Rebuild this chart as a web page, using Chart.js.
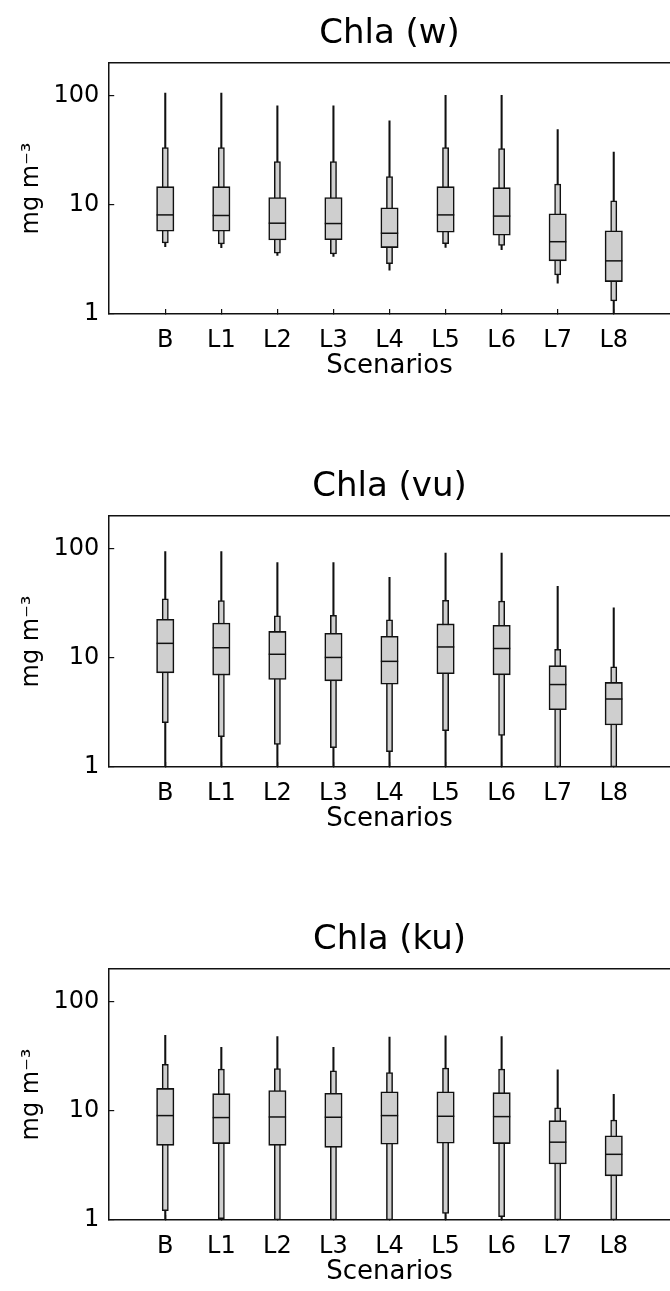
<!DOCTYPE html>
<html>
<head>
<meta charset="utf-8">
<script src="https://cdn.jsdelivr.net/npm/chart.js@4.4.0/dist/chart.umd.min.js"></script>
<style>
  html, body { margin: 0; padding: 0; background: #fff; overflow: hidden; }
  canvas { display: block; }
</style>
</head>
<body>
<canvas id="panelW" width="680" height="453"></canvas>
<canvas id="panelVu" width="680" height="453"></canvas>
<canvas id="panelKu" width="680" height="453"></canvas>
<script>
const scenarios = ['B', 'L1', 'L2', 'L3', 'L4', 'L5', 'L6', 'L7', 'L8'];
const yTicks = [1, 10, 100];

// Chla (w)
const wMax = [106, 106, 81, 81, 59, 101, 101, 49, 30.5];
const wHi  = [33.5, 33.5, 25, 25, 18.2, 33.5, 32.8, 15.5, 10.9];
const wQ3  = [14.7, 14.7, 11.7, 11.7, 9.4, 14.7, 14.4, 8.3, 5.8];
const wMed = [8.1, 8.0, 6.8, 6.75, 5.5, 8.1, 7.9, 4.6, 3.07];
const wQ1  = [5.74, 5.74, 4.77, 4.8, 4.06, 5.62, 5.27, 3.07, 1.98];
const wLo  = [4.48, 4.4, 3.61, 3.55, 2.9, 4.42, 4.26, 2.28, 1.32];
const wMin = [4.14, 4.05, 3.44, 3.37, 2.52, 4.08, 3.89, 1.92, 1];

// Chla (vu)
const vuMax = [94.4, 94.4, 74.7, 74.7, 54.7, 91.2, 91.2, 45.4, 28.8];
const vuHi  = [34.9, 33.5, 24.3, 24.6, 22.4, 33.7, 33.2, 12.0, 8.3];
const vuQ3  = [22.6, 20.9, 17.5, 16.8, 15.8, 20.5, 19.9, 8.49, 5.96];
const vuMed = [13.6, 12.4, 10.8, 10.1, 9.3, 12.6, 12.2, 5.7, 4.2];
const vuQ1  = [7.3, 6.96, 6.35, 6.16, 5.74, 7.16, 7.0, 3.35, 2.43];
const vuLo  = [2.55, 1.9, 1.61, 1.5, 1.38, 2.15, 1.95, 1, 1];
const vuMin = [1, 1, 1, 1, 1, 1, 1, 1, 1];

// Chla (ku)
const kuMax = [49.2, 38.3, 48.1, 38.3, 47.4, 48.9, 48.1, 23.8, 14.2];
const kuHi  = [26.7, 24.2, 24.5, 23.3, 22.5, 24.7, 24.2, 10.7, 8.26];
const kuQ3  = [16.1, 14.4, 15.4, 14.5, 15.0, 15.0, 14.7, 8.15, 5.92];
const kuMed = [9.06, 8.69, 8.8, 8.75, 9.06, 8.93, 8.87, 5.17, 4.0];
const kuQ1  = [4.84, 5.02, 4.84, 4.64, 4.95, 5.06, 5.02, 3.26, 2.54];
const kuLo  = [1.22, 1.03, 1, 1, 1, 1.15, 1.07, 1, 1];
const kuMin = [1, 1, 1, 1, 1, 1, 1, 1, 1];

const ink = '#111';
const fill = '#cfcfcf';
const font = 'DejaVu Sans, Liberation Sans, sans-serif';

function ranges(lo, hi) {
  return scenarios.map((s, i) => ({ x: s, y: [lo[i], hi[i]] }));
}

function makePanel(id, title, mn, lo, q1, med, q3, hi, mx) {
  const ctx = document.getElementById(id).getContext('2d');
  return new Chart(ctx, {
    type: 'bar',
    data: {
      labels: ['', ...scenarios, ''],
      datasets: [
        {
          type: 'line',
          data: scenarios.map((s, i) => ({ x: s, y: med[i] })),
          showLine: false,
          pointStyle: 'line',
          pointRadius: 8.7,
          pointBorderColor: ink,
          pointBorderWidth: 1.5
        },
        {
          data: ranges(q1, q3),
          barThickness: 17.4,
          backgroundColor: fill,
          borderColor: ink,
          borderWidth: 1.6,
          borderSkipped: false,
          grouped: false
        },
        {
          data: ranges(lo, hi),
          barThickness: 6.2,
          backgroundColor: fill,
          borderColor: ink,
          borderWidth: 1.5,
          borderSkipped: false,
          grouped: false
        },
        {
          data: ranges(mn, mx),
          barThickness: 1.4,
          backgroundColor: ink,
          borderWidth: 0,
          grouped: false
        }
      ]
    },
    options: {
      responsive: false,
      animation: false,
      events: [],
      layout: { padding: { top: 4, left: 4, right: 4, bottom: 71 } },
      plugins: { legend: { display: false }, tooltip: { enabled: false } },
      scales: {
        x: {
          offset: false,
          grid: { offset: false, drawOnChartArea: false, tickLength: -5, color: ink, lineWidth: 1.2 },
          border: { color: ink, width: 1.5 },
          afterBuildTicks: (scale) => {
            scale.ticks = scale.ticks.filter(t => t.value >= 1 && t.value <= scenarios.length);
          },
          ticks: { color: '#000', font: { family: font, size: 24 }, padding: 17.5, maxRotation: 0, autoSkip: false },
          title: { display: true, text: 'Scenarios', color: '#000', font: { family: font, size: 26 }, padding: { top: -22, bottom: 0 } }
        },
        x2: {
          position: 'top',
          type: 'linear',
          min: 0,
          max: 1,
          grid: { display: false, drawTicks: false },
          border: { color: ink, width: 1.5 },
          ticks: { display: false },
          title: { display: true, text: title, color: '#000', font: { family: font, size: 34 }, padding: { top: 9.6, bottom: 8.6 } }
        },
        y: {
          type: 'logarithmic',
          min: 1,
          max: 200,
          grid: { drawOnChartArea: false, tickLength: -5, color: ink, lineWidth: 1.2 },
          border: { color: ink, width: 1.5 },
          afterBuildTicks: (scale) => {
            scale.ticks = yTicks.map(v => ({ value: v }));
          },
          ticks: { color: '#000', font: { family: font, size: 24 }, padding: 15, callback: (v) => String(v) },
          title: { display: true, text: 'mg m\u207B\u00B3', color: '#000', font: { family: font, size: 24 }, padding: { top: 13.6, bottom: -8 } }
        }
      }
    }
  });
}

makePanel('panelW', 'Chla (w)', wMin, wLo, wQ1, wMed, wQ3, wHi, wMax);
makePanel('panelVu', 'Chla (vu)', vuMin, vuLo, vuQ1, vuMed, vuQ3, vuHi, vuMax);
makePanel('panelKu', 'Chla (ku)', kuMin, kuLo, kuQ1, kuMed, kuQ3, kuHi, kuMax);
</script>
</body>
</html>
